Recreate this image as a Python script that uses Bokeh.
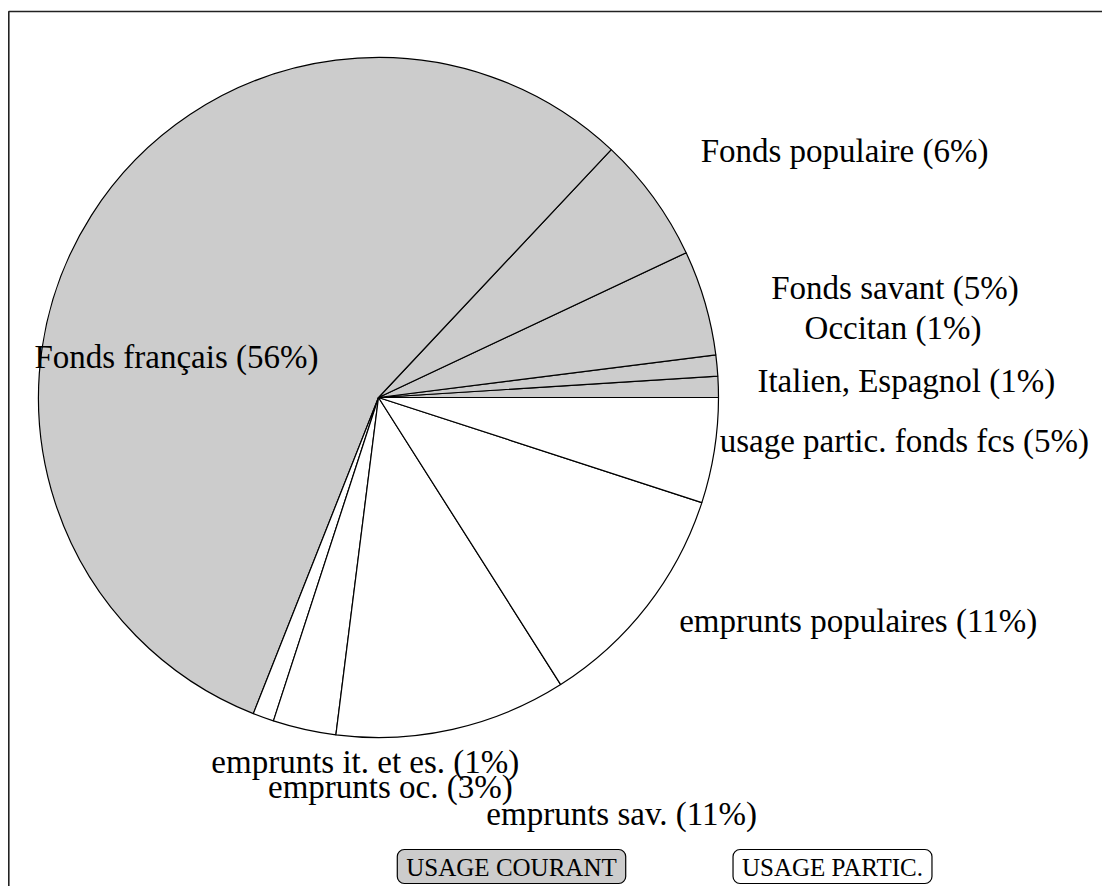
import numpy as np
from bokeh.plotting import figure
from bokeh.models import Range1d, BoxAnnotation, Label, ColumnDataSource
from bokeh.core.properties import value
from bokeh.embed import file_html
from bokeh.resources import INLINE

# ---------------- data ----------------
categories = ["Italien, Espagnol", "Occitan", "Fonds savant", "Fonds populaire",
              "Fonds français", "emprunts it. et es.", "emprunts oc.",
              "emprunts sav.", "emprunts populaires", "usage partic. fonds fcs"]
shares = [1, 1, 5, 6, 56, 1, 3, 11, 11, 5]
usage = ["USAGE COURANT"] * 5 + ["USAGE PARTIC."] * 5
groups = ["USAGE COURANT", "USAGE PARTIC."]
group_colors = {"USAGE COURANT": "#cccccc", "USAGE PARTIC.": "#ffffff"}

# ---------------- layout ----------------
W, H = 1102, 886
CX, CY, R = 378, 489, 340
FONT = "Liberation Serif"
# label offsets from the arc midpoint of each slice (pixels)
label_nudge = [(188, 6), (176, 38), (190, 15), (191, 47), (85, -142),
               (102, -45), (86, -58), (169, -85), (211, -15), (190, 10)]
legend_x = [511, 832]
legend_y = 20

vals = np.array(shares, dtype=float)
cum = np.concatenate([[0], np.cumsum(vals)]) / vals.sum() * 2 * np.pi
start, end = cum[:-1], cum[1:]
mid = (start + end) / 2

src = ColumnDataSource(dict(
    start=start, end=end,
    color=[group_colors[u] for u in usage],
    lx=CX + R * np.cos(mid) + np.array([n[0] for n in label_nudge]),
    ly=CY + R * np.sin(mid) + np.array([n[1] for n in label_nudge]),
    label=[f"{c} ({s}%)" for c, s in zip(categories, shares)],
))

p = figure(width=W, height=H, output_backend="svg", toolbar_location=None,
           x_range=Range1d(0, W), y_range=Range1d(0, H), min_border=0,
           background_fill_color="white", border_fill_color="white")
p.axis.visible = False
p.grid.visible = False
p.outline_line_color = None

p.wedge(x=CX, y=CY, radius=R, start_angle="start", end_angle="end", source=src,
        fill_color="color", line_color="black", line_width=1.2)

p.text(x="lx", y="ly", text="label", source=src, text_font=value(FONT),
       text_font_size="33px", text_align="center", text_baseline="middle",
       text_color="black")

# frame (only top & left edges fall inside the view)
p.add_layout(BoxAnnotation(left=8.3, right=W + 100, bottom=-100, top=H - 11,
                           fill_color=None, fill_alpha=0,
                           line_color="#222222", line_alpha=1.0, line_width=1.6))

for g, gx in zip(groups, legend_x):
    p.add_layout(Label(x=gx, y=legend_y, text=g, text_font=FONT, text_font_size="25px",
                       text_align="center", text_baseline="middle", text_color="black",
                       background_fill_color=group_colors[g], border_line_color="black",
                       border_line_width=1.2, border_radius=7,
                       padding=dict(left=9, right=9, top=4, bottom=3)))

open("out.html", "w").write(file_html(p, INLINE))
